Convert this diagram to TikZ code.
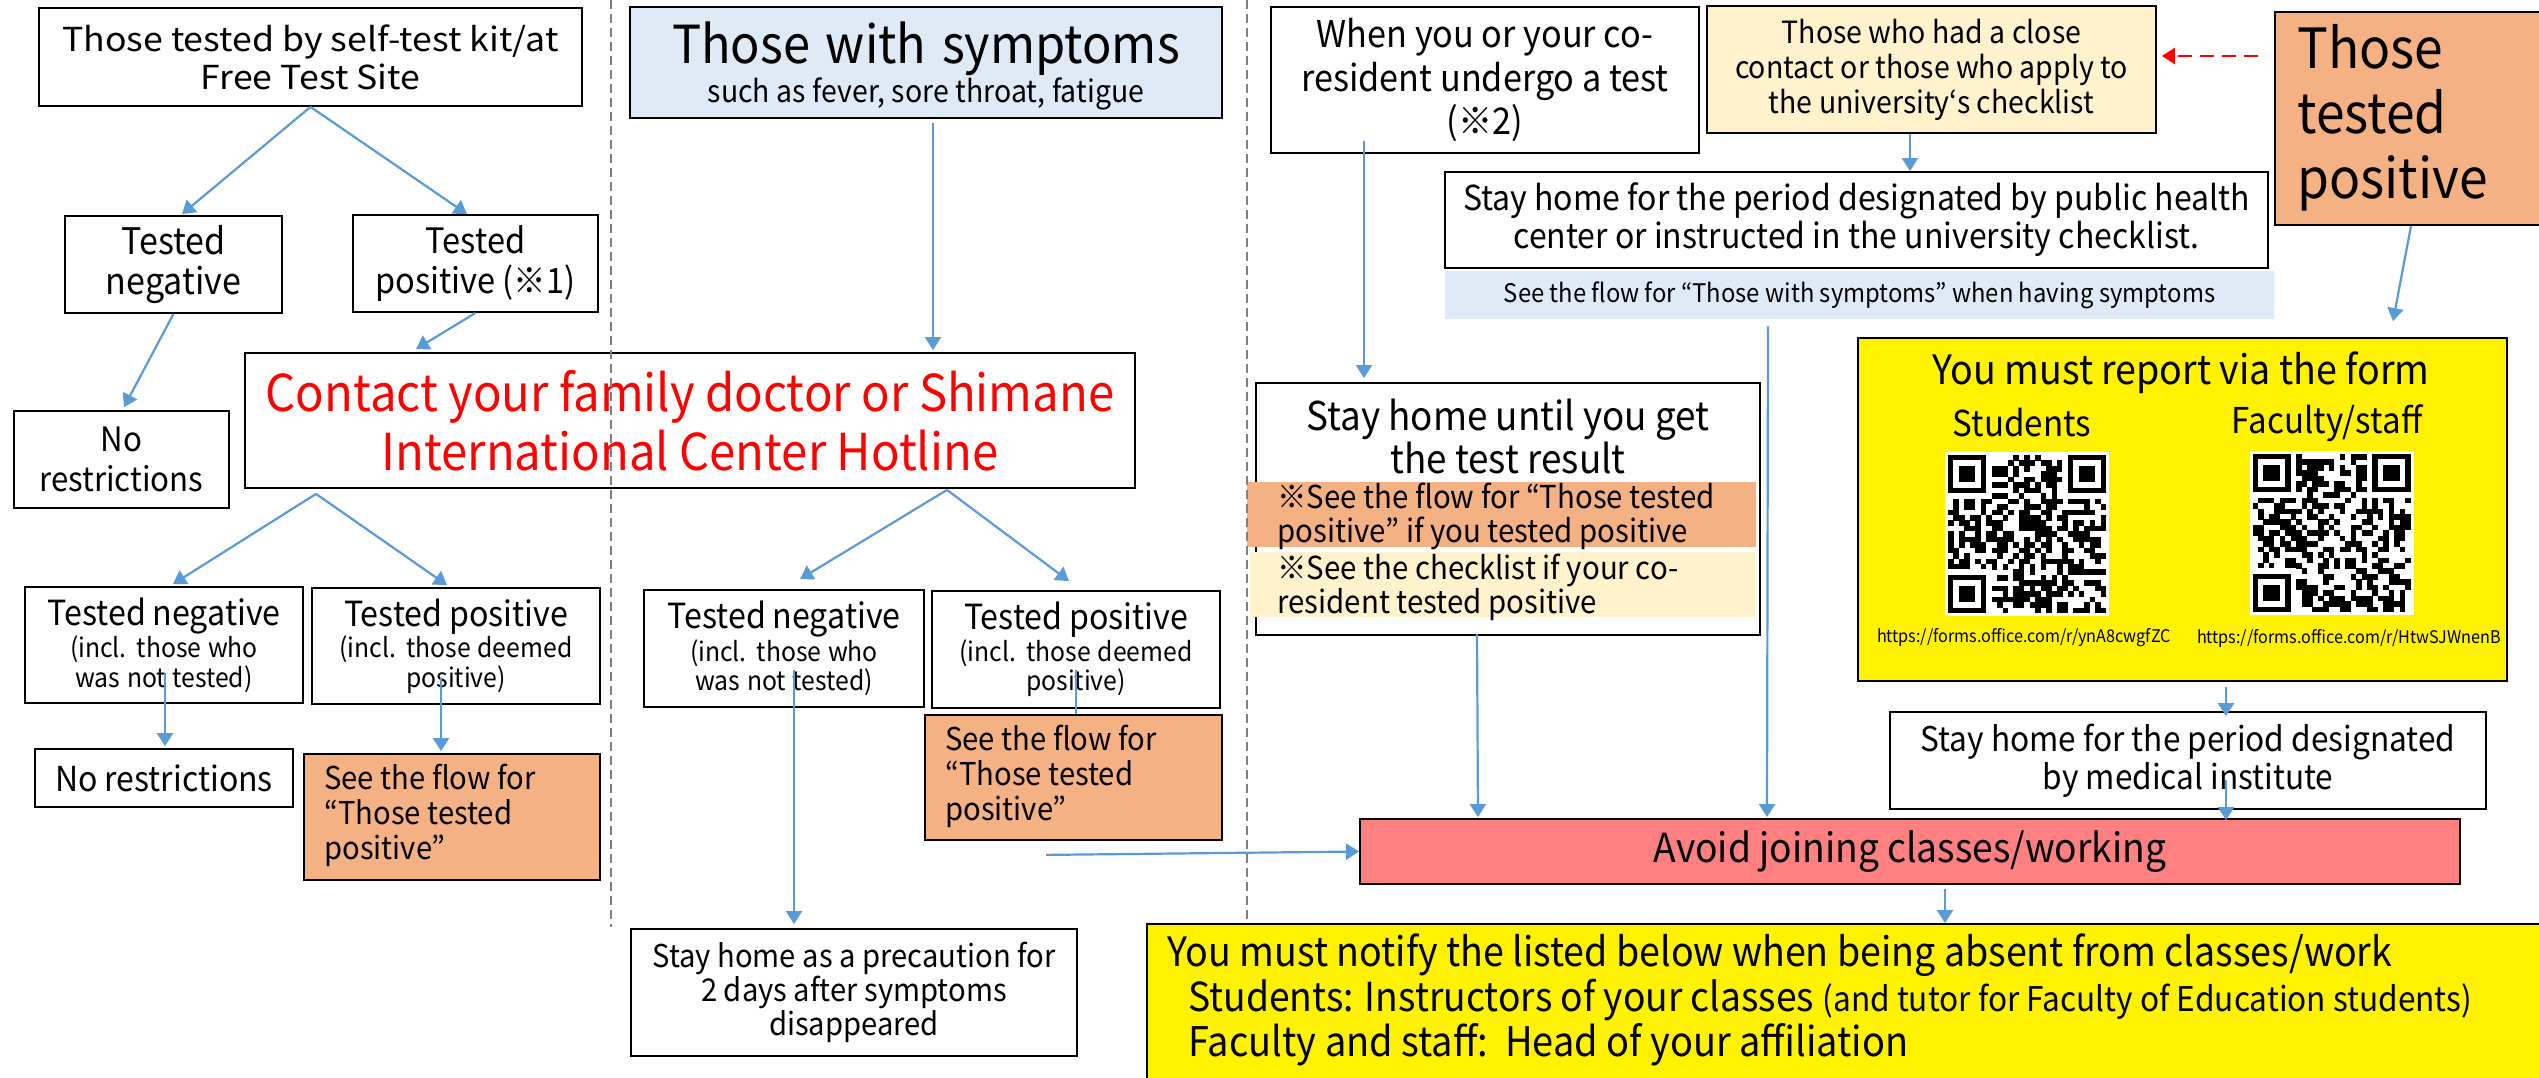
\documentclass[tikz,border=0pt]{standalone}
\usepackage{fontspec}
\setmainfont{Noto Sans CJK JP}[FakeStretch=0.93]
\newfontfamily\wfont{Noto Sans CJK JP}[FakeStretch=1.08]
\usetikzlibrary{arrows.meta}
\definecolor{arrblue}{HTML}{5B9BD5}
\definecolor{ltblue}{HTML}{DEEBF7}
\definecolor{ltyellow}{HTML}{FFF2CC}
\definecolor{orng}{HTML}{F4B183}
\definecolor{pinkred}{HTML}{FF8080}
\newcommand{\fsz}[2]{\fontsize{#1pt}{#2pt}\selectfont}
\newcommand{\qrdraw}[3]{%
  \pgfmathsetseed{#3}%
  \foreach \qi in {0,...,28}{%
    \foreach \qj in {0,...,28}{%
      \pgfmathsetmacro{\qrv}{rnd}%
      \ifdim\qrv pt<0.5pt\relax
        \fill[black] ({#1+3+\qi*5.45},{#2+3+\qj*5.45}) rectangle ++(5.6,5.6);%
      \fi
    }%
  }%
  \foreach \fx/\fy/\sx/\sy in {0/0/0/0,22/0/21/0,0/22/0/21}{%
    \fill[white] ({#1+3+\sx*5.45},{#2+3+\sy*5.45}) rectangle ++(43.6,43.6);
    \fill[black] ({#1+3+\fx*5.45},{#2+3+\fy*5.45}) rectangle ++(38.15,38.15);
    \fill[white] ({#1+3+(\fx+1)*5.45},{#2+3+(\fy+1)*5.45}) rectangle ++(27.25,27.25);
    \fill[black] ({#1+3+(\fx+2)*5.45},{#2+3+(\fy+2)*5.45}) rectangle ++(16.35,16.35);
  }%
}
\begin{document}
\begin{tikzpicture}[x=0.5pt,y=-0.5pt,
  box/.style={draw=black, line width=0.9pt, inner sep=0pt, align=center},
  plain/.style={inner sep=0pt, align=center},
  arr/.style={draw=arrblue, line width=1.1pt, -{Triangle[length=6.5pt,width=8pt]}},
  lin/.style={draw=arrblue, line width=1.1pt},
  sepline/.style={draw=gray, line width=0.7pt, dash pattern=on 4.5pt off 2.5pt},
  reddash/.style={draw=red, line width=1.3pt, dash pattern=on 7pt off 4pt, -{Triangle[length=6.5pt,width=8pt]}}]
\useasboundingbox (0,0) rectangle (2539,1077);
\clip (0,0) rectangle (2539,1077);

% ---------- left column ----------
\node[box, minimum width=271.5pt, minimum height=49pt, font=\wfont\fsz{16.5}{19}] (A) at (310.5,57) {Those tested by self-test kit/at\\Free Test Site};
\node[box, minimum width=108.5pt, minimum height=48.5pt, font=\fsz{18.3}{20}] (B) at (173.5,264.5) {Tested\\negative};
\node[box, minimum width=122.5pt, minimum height=48.5pt, font=\fsz{17.5}{20}] (C) at (475.5,263.5) {Tested\\positive (※1)};
\node[box, minimum width=107.5pt, minimum height=48.5pt, font=\fsz{16.8}{20}] (D) at (121.5,459.5) {No\\restrictions};
\node[box, minimum width=445pt, minimum height=67.5pt, font=\fsz{25.4}{29.5}, text=red] (E) at (690,420.5) {Contact your family doctor or Shimane\\International Center Hotline};
\node[box, minimum width=139pt, minimum height=58pt, text width=139pt] (F) at (164,645) {{\fsz{17.3}{17}Tested negative\par}{\fsz{13.3}{14.75}(incl. those who\\was not tested)\par}};
\node[box, minimum width=144pt, minimum height=58pt, text width=144pt] (G) at (456,646) {{\fsz{17.3}{17}Tested positive\par}{\fsz{13.3}{14.75}(incl. those deemed\\positive)\par}};
\node[box, minimum width=129pt, minimum height=29pt, font=\fsz{17.2}{20}] (D2) at (164,778) {No restrictions};
\node[box, fill=orng, minimum width=148pt, minimum height=63pt] (K1) at (452,817) {};
\node[plain, anchor=west, align=left, font=\fsz{15.7}{17.5}] (K1t) at (324,815) {See the flow for\\“Those tested\\positive”};

% ---------- middle column ----------
\node[box, fill=ltblue, minimum width=296pt, minimum height=55.5pt] (H) at (926,62.5) {};
\node[plain, text width=296pt] (Ht) at (926,66) {{\fsz{26.2}{30}Those\hspace{0.3em}with\hspace{0.3em}symptoms\par}{\fsz{15.3}{17.5}such as fever, sore throat, fatigue\par}};
\node[box, minimum width=140pt, minimum height=58.5pt, text width=140pt] (I) at (784,648.5) {{\fsz{17.3}{17}Tested negative\par}{\fsz{13.3}{14.75}(incl. those who\\was not tested)\par}};
\node[box, minimum width=144pt, minimum height=58.5pt, text width=144pt] (J) at (1076,649.5) {{\fsz{17.3}{17}Tested positive\par}{\fsz{13.3}{14.75}(incl. those deemed\\positive)\par}};
\node[box, fill=orng, minimum width=148.5pt, minimum height=62.5pt] (K2) at (1073.5,777.5) {};
\node[plain, anchor=west, align=left, font=\fsz{15.7}{17.5}] (K2t) at (945,776.5) {See the flow for\\“Those tested\\positive”};
\node[box, minimum width=223pt, minimum height=63.5pt, font=\fsz{15.7}{17}] (N) at (854,992.5) {Stay home as a precaution for\\2 days after symptoms\\disappeared};

% ---------- right column ----------
\node[box, minimum width=214pt, minimum height=73pt, font=\fsz{18.4}{21.75}] (R) at (1485,80) {When you or your co-\\resident undergo a test\\(※2)};
\node[box, fill=ltyellow, minimum width=224.5pt, minimum height=63.5pt, font=\fsz{15.3}{17.5}] (S) at (1931.5,69.5) {Those who had a close\\contact or those who apply to\\the university‘s checklist};
\node[box, minimum width=411.5pt, minimum height=48pt, font=\fsz{17.2}{19}] (T) at (1856.5,220) {Stay home for the period designated by public health\\center or instructed in the university checklist.};
\node[plain, fill=ltblue, minimum width=414.5pt, minimum height=24pt, font=\fsz{12.8}{16}] (U) at (1859.5,295) {See the flow for “Those with symptoms” when having symptoms};
\node[box, fill=orng, minimum width=142.5pt, minimum height=106.5pt] (V) at (2417.5,118.5) {};
\node[plain, anchor=west, align=left, font=\fsz{27.7}{32.5}] (Vt) at (2297,118) {Those\\tested\\positive};

\node[box, minimum width=252pt, minimum height=126pt] (P) at (1508,509) {};
\node[plain, font=\fsz{19.8}{21.5}] (Pt) at (1508,436.5) {Stay home until you get\\the test result};
\node[plain, fill=orng, minimum width=254.5pt, minimum height=32.5pt] (PB1) at (1501.5,514.5) {};
\node[plain, anchor=west, align=left, font=\fsz{15.8}{17}] (PB1t) at (1277,516) {※See the flow for “Those tested\\positive” if you tested positive};
\node[plain, fill=ltyellow, minimum width=252.5pt, minimum height=32.5pt] (PB2) at (1502.5,584.5) {};
\node[plain, anchor=west, align=left, font=\fsz{15.8}{17}] (PB2t) at (1277,587) {※See the checklist if your co-\\resident tested positive};

\node[box, fill=yellow, minimum width=324.5pt, minimum height=171.5pt] (Q) at (2182.5,509.5) {};
\node[plain, font=\fsz{20.2}{24}] (Qt) at (2181,373) {You must report via the form};
\node[plain, font=\fsz{17.8}{20}] (Qs) at (2022,423) {Students};
\node[plain, font=\fsz{17.8}{20}] (Qf) at (2327,423) {Faculty/staff};
\node[plain, fill=white, minimum size=82pt] (qr1) at (2027,534) {};
\node[plain, fill=white, minimum size=82pt] (qr2) at (2331.5,533) {};
\qrdraw{1945}{452}{7}
\qrdraw{2249.5}{451}{23}
\node[plain, font=\fsz{8.7}{10}] (u1) at (2024,638) {https://forms.office.com/r/ynA8cwgfZC};
\node[plain, font=\fsz{8.7}{10}] (u2) at (2349,638) {https://forms.office.com/r/HtwSJWnenB};

\node[box, minimum width=298pt, minimum height=48.5pt, font=\fsz{17}{19}] (O) at (2188,760.5) {Stay home for the period designated\\by medical institute};
\node[box, fill=pinkred, minimum width=550pt, minimum height=32.5pt, font=\fsz{20}{24}] (L) at (1910,851.5) {Avoid joining classes/working};

\node[box, fill=yellow, minimum width=706.5pt, minimum height=83pt] (M) at (1853.5,1007) {};
\node[plain, anchor=west, font=\fsz{20.2}{24}] (M1) at (1167,955) {You must notify the listed below when being absent from classes/work};
\node[plain, anchor=west, font=\fsz{20}{24}] (M2) at (1188,1000) {Students: Instructors of your classes {\fsz{17}{24}(and tutor for Faculty of Education students)}};
\node[plain, anchor=west, font=\fsz{20.4}{24}] (M3) at (1188,1045) {Faculty and staff:\ \ Head of your affiliation};

% ---------- connectors ----------
\draw[arr] (A.south) -- ([xshift=4.25pt,yshift=0.5pt]B.north);
\draw[arr] (A.south) -- ([xshift=-4.25pt]C.north);
\draw[arr] (B.south) -- ([xshift=1.25pt,yshift=1.5pt]D.north);
\draw[arr] (C.south) -- ([xshift=-137pt,yshift=1.5pt]E.north);
\draw[arr] ([xshift=3.5pt,yshift=-2pt]H.south) -- ([xshift=121.5pt,yshift=1pt]E.north);
\draw[arr] ([xshift=-187pt,yshift=-2.5pt]E.south) -- ([xshift=4.5pt,yshift=1pt]F.north);
\draw[arr] ([xshift=-187pt,yshift=-2.5pt]E.south) -- ([xshift=-4.5pt,yshift=1pt]G.north);
\draw[arr] ([xshift=128.5pt,yshift=-0.5pt]E.south) -- ([xshift=8pt,yshift=5pt]I.north);
\draw[arr] ([xshift=128.5pt,yshift=-0.5pt]E.south) -- ([xshift=-3.5pt,yshift=4.5pt]J.north);
\draw[arr] ([xshift=0.5pt,yshift=-14pt]F.center) -- ([xshift=0.5pt,yshift=1pt]D2.north);
\draw[arr] ([xshift=-7.5pt,yshift=-16pt]G.center) -- ([xshift=-5.5pt,yshift=1pt]K1.north);
\draw[arr] ([xshift=5pt,yshift=-10.75pt]I.center) -- ([xshift=-30pt,yshift=2pt]N.north);
\draw[lin] ([yshift=-10.25pt]J.center) -- ([xshift=1.25pt]K2.north);
\draw[arr] ([xshift=-13.75pt,yshift=-7pt]K2.south) -- (L.west);
\draw[arr] ([xshift=-60.5pt,yshift=6.5pt]R.south) -- ([xshift=-72pt,yshift=2pt]P.north);
\draw[arr] ([xshift=-15.5pt,yshift=1pt]P.south) -- ([xshift=-216pt,yshift=0.5pt]L.north);
\draw[arr] ([xshift=-45.75pt,yshift=-3.5pt]U.south) -- ([xshift=-71.5pt,yshift=0.5pt]L.north);
\draw[arr] ([xshift=-10.75pt]S.south) -- ([xshift=26.75pt]T.north);
\draw[arr] ([xshift=-3.25pt]V.south) -- ([xshift=105.25pt,yshift=8pt]Q.north);
\draw[reddash] ([xshift=-8pt,yshift=31.25pt]V.west) -- ([xshift=2.5pt,yshift=6.75pt]S.east);
\draw[arr] ([xshift=21.75pt,yshift=-2.5pt]Q.south) -- ([xshift=19pt,yshift=-2.5pt]O.north);
\draw[arr] ([xshift=19pt,yshift=-9.75pt]O.center) -- ([xshift=158pt,yshift=-1pt]L.north);
\draw[arr] ([xshift=17.5pt,yshift=-2pt]L.south) -- ([xshift=45.75pt]M.north);

% ---------- separators ----------
\coordinate (s1a) at (611,0);
\coordinate (s1b) at (611,927);
\coordinate (s2a) at (1247,0);
\coordinate (s2b) at (1247,922);
\draw[sepline] (s1a) -- (s1b);
\draw[sepline] (s2a) -- (s2b);
\end{tikzpicture}
\end{document}
